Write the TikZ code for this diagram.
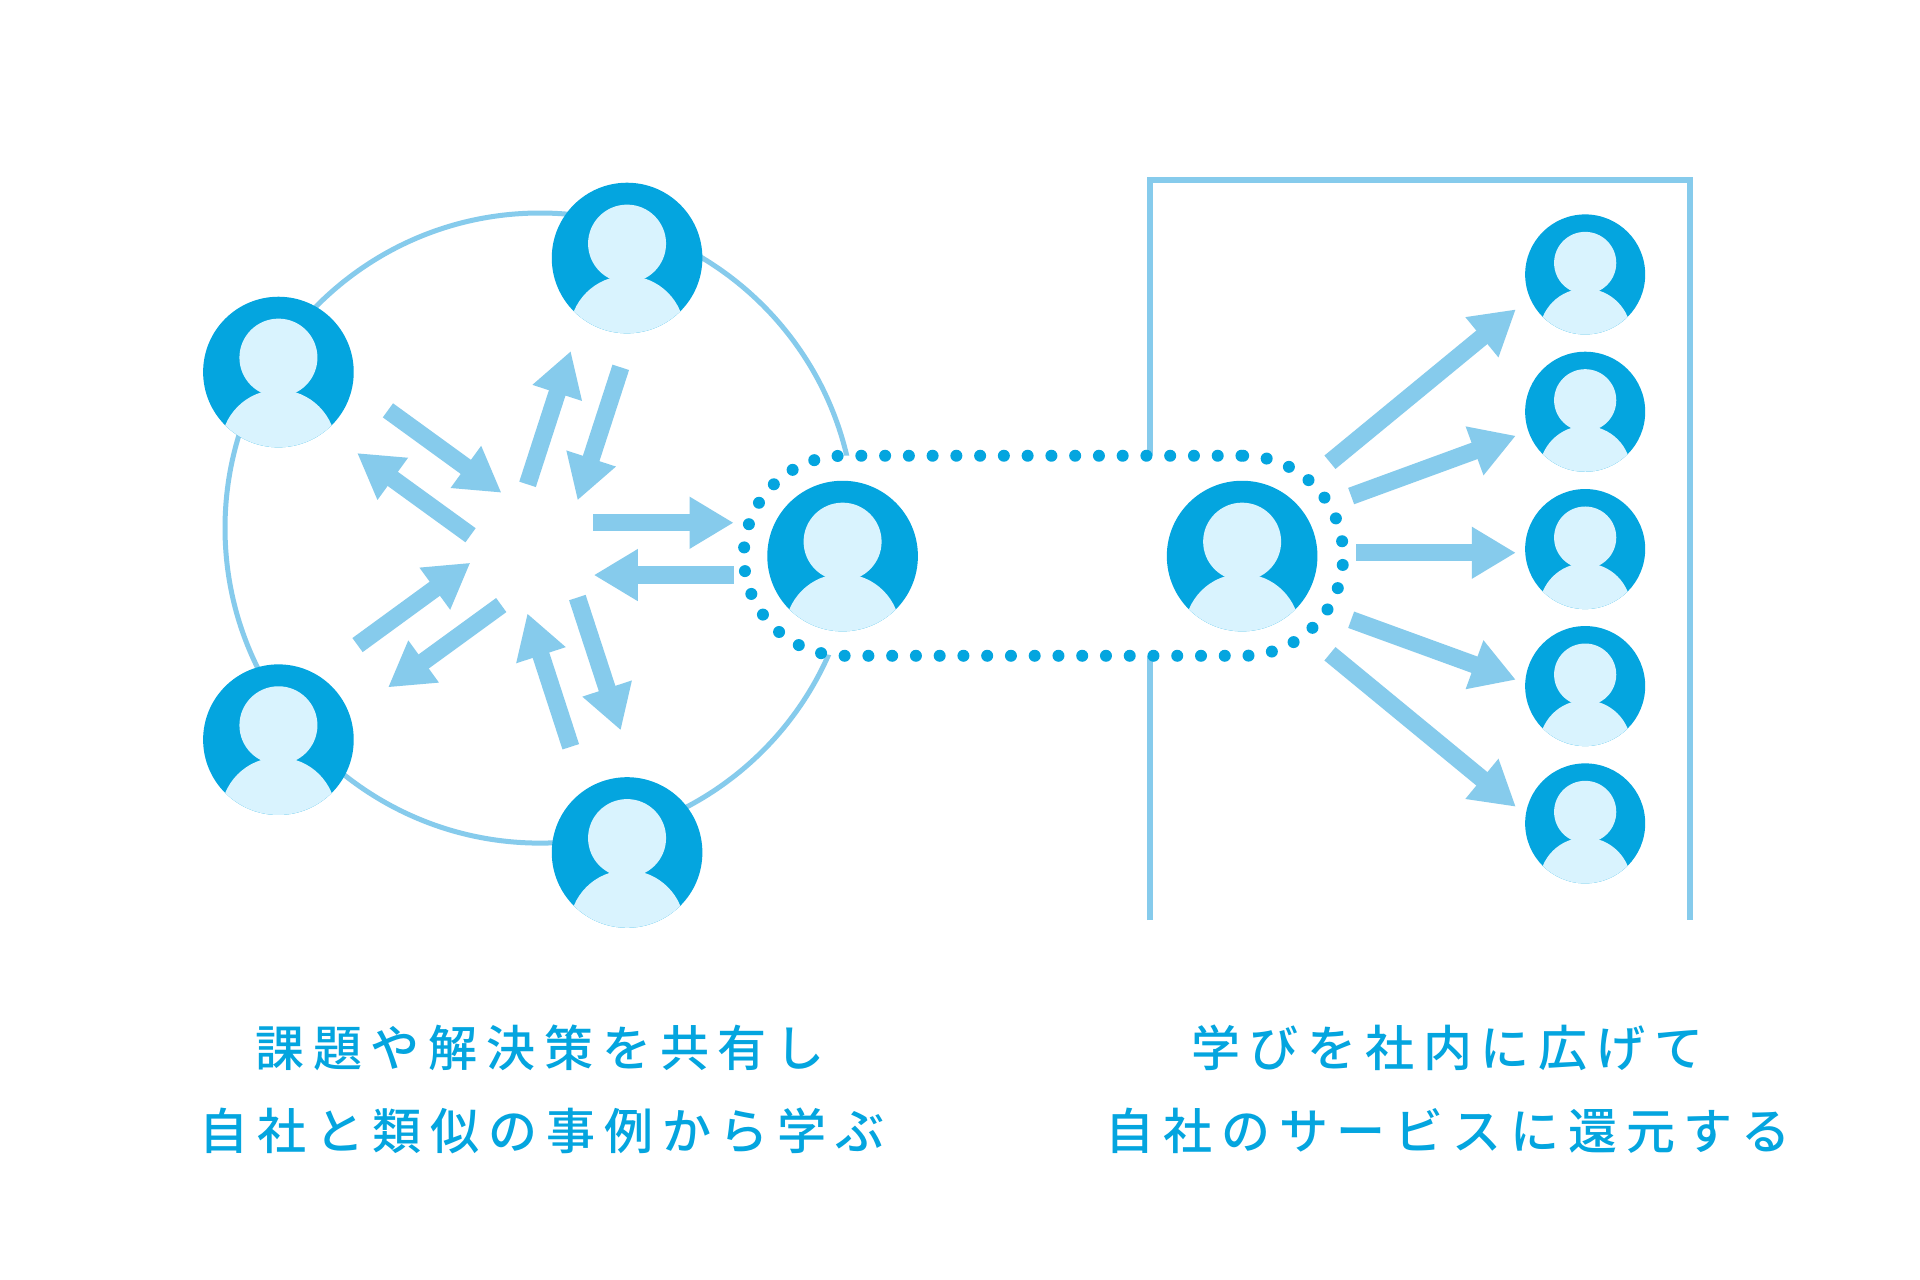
\documentclass[tikz,border=0pt]{standalone}
\usepackage{fontspec}
\newfontfamily\jpfont[LetterSpace=18]{Noto Sans CJK JP Medium}
\usetikzlibrary{arrows.meta}
\definecolor{deepblue}{HTML}{04A5DF}
\definecolor{paleblue}{HTML}{D9F3FE}
\definecolor{midblue}{HTML}{86CBEC}
\tikzset{
  person/.style={circle,fill=deepblue,inner sep=0pt,outer sep=0pt,minimum size=#1*75.3bp,
    path picture={
      \fill[paleblue] ([yshift=#1*7.2bp]path picture bounding box.center) circle[radius=#1*19.5bp];
      \fill[paleblue] ([yshift=-#1*37.65bp]path picture bounding box.center) circle[radius=#1*28.8bp];
    }},
  bigperson/.style={person=1},
  smallperson/.style={person=0.797},
  blockarrow/.style={draw=midblue,line width=8.7bp,-{Triangle[length=22bp,width=24.4bp,fill=midblue]}},
  thinline/.style={draw=midblue},
  dotted stadium/.style={draw=deepblue,fill=white,line width=6bp,line cap=round,dash pattern=on 0bp off 11.877bp},
  caption/.style={text=deepblue,inner sep=0pt,font=\jpfont\fontsize{24.5bp}{29bp}\selectfont}
}
\begin{document}
\begin{tikzpicture}[x=0.5bp,y=-0.5bp]
\useasboundingbox[fill=white] (0,0) rectangle (1919.8,1279.8);
% ring
\draw[thinline,line width=2.5bp] (540,528) circle[radius=157.5bp];
% open frame
\draw[thinline,line width=3bp] (1150,920) -- (1150,180) -- (1690,180) -- (1690,920);
% dotted stadium
\draw[dotted stadium] (1243,455.7) arc[start angle=90,end angle=-90,radius=50bp] -- (843.7,655.7) arc[start angle=-90,end angle=-270,radius=50bp] -- cycle;
% persons
\node[bigperson] (pa) at (278.4,372) {};
\node[bigperson] (pb) at (627,258) {};
\node[bigperson] (pc) at (278.4,739.6) {};
\node[bigperson] (pd) at (627,852.4) {};
\node[bigperson] (pe) at (842.5,556) {};
\node[bigperson] (pf) at (1242,556) {};
\node[smallperson] (q1) at (1585,274.4) {};
\node[smallperson] (q2) at (1585,411.7) {};
\node[smallperson] (q3) at (1585,549) {};
\node[smallperson] (q4) at (1585,686) {};
\node[smallperson] (q5) at (1585,823.3) {};
% arrow ends
\coordinate (a1s) at (387.9,410.3); \coordinate (a1e) at (501.4,492.7);
\coordinate (a2s) at (470.5,535.2); \coordinate (a2e) at (357.1,453);
\coordinate (a3s) at (527.5,484.3); \coordinate (a3e) at (570.7,351);
\coordinate (a4s) at (620.7,367.3); \coordinate (a4e) at (577.5,500.3);
\coordinate (a5s) at (593.2,522.7); \coordinate (a5e) at (733.6,522.7);
\coordinate (a6s) at (733.7,575); \coordinate (a6e) at (593.7,575);
\coordinate (a7s) at (357.5,645); \coordinate (a7e) at (470.3,562.7);
\coordinate (a8s) at (501.2,605); \coordinate (a8e) at (388,687.3);
\coordinate (a9s) at (570.7,746.7); \coordinate (a9e) at (527.3,613.3);
\coordinate (a10s) at (577.3,597.5); \coordinate (a10e) at (620.7,730.3);
\coordinate (r1s) at (1329.8,462.2); \coordinate (r1e) at (1515.7,309.3);
\coordinate (r2s) at (1351,496); \coordinate (r2e) at (1515.7,435.7);
\coordinate (r3s) at (1356,552.7); \coordinate (r3e) at (1515.7,552.7);
\coordinate (r4s) at (1351,619.7); \coordinate (r4e) at (1515.7,679.7);
\coordinate (r5s) at (1329.8,653.7); \coordinate (r5e) at (1515.7,806.7);
\foreach \n in {a1,a2,a3,a4,a5,a6,a7,a8,a9,a10,r1,r2,r3,r4,r5}
  \draw[blockarrow] (\n s) -- (\n e);
% captions
\node[caption] (t1) at (540,1048) {課題や解決策を共有し};
\node[caption] (t2) at (542,1131) {自社と類似の事例から学ぶ};
\node[caption] (t3) at (1447.5,1048) {学びを社内に広げて};
\node[caption] (t4) at (1448,1131) {自社のサービスに還元する};
\end{tikzpicture}
\end{document}
